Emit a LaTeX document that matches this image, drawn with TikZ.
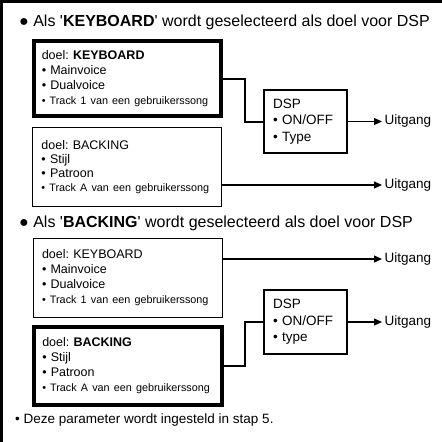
\documentclass[tikz,border=0pt]{standalone}
\usepackage{fontspec}
\setmainfont{Liberation Sans}
\usetikzlibrary{arrows.meta,calc}
\frenchspacing
\begin{document}
\begin{tikzpicture}[x=1pt,y=-1pt,
  srcbox/.style={draw, align=left, inner ysep=0pt, minimum height=#1,
    font=\frenchspacing\fontsize{12.5}{15}\selectfont},
  thinsrc/.style={srcbox=#1, line width=1pt, inner xsep=9pt, text width=171pt},
  thicksrc/.style={srcbox=#1, line width=4pt, inner xsep=8pt, text width=171.5pt},
  dspbox/.style={draw, line width=2pt, align=left, inner xsep=9pt, inner ysep=0pt,
    text width=65pt, minimum height=#1, font=\fontsize{13.5}{16.5}\selectfont},
  outlbl/.style={anchor=west, inner xsep=2.5pt, inner ysep=0pt, font=\fontsize{13.5}{16}\selectfont},
  titlelbl/.style={anchor=west, inner sep=0pt, font=\fontsize{16}{18}\selectfont},
  conn/.style={line width=2pt},
  arr/.style={line width=1.2pt, -{Triangle[length=8pt,width=7pt]}}]
\useasboundingbox (0,0) rectangle (442,442);
% frame
\draw[line width=2.5pt] (1.25,442) -- (1.25,1.25) -- (442,1.25);

% ---------- part 1 ----------
\node[titlelbl] (t1) at (19,22) {● Als \textquotesingle\textbf{KEYBOARD}\textquotesingle{} wordt geselecteerd als doel voor DSP};

\node[thicksrc=75pt] (b1) at (127.5,78.5) {\mbox{doel: \textbf{KEYBOARD}}\\\mbox{• Mainvoice}\\\mbox{• Dualvoice}\\\mbox{\fontsize{10.8}{15}\selectfont • Track 1 van een gebruikerssong}};
\node[thinsrc=79pt, font=\fontsize{12.5}{14}\selectfont] (b2) at (127,167) {\mbox{doel: BACKING}\\\mbox{• Stijl}\\\mbox{• Patroon}\\\mbox{\fontsize{10.8}{14}\selectfont • Track A van een gebruikerssong}};

\node[dspbox=63pt] (d1) at (305.5,121.5) {DSP\\• ON/OFF\\• Type};

\node[outlbl] (u1) at (382,121.5) {Uitgang};
\node[outlbl] (u2) at (382,185) {Uitgang};

\draw[conn] (b1.east) -- ++(22,0) |- (d1.west);
\draw[arr] (d1.east) -- (u1.west);
\draw[arr] (b2.east |- u2.west) -- (u2.west);

% ---------- part 2 ----------
\node[titlelbl] (t2) at (19,223) {● Als \textquotesingle\textbf{BACKING}\textquotesingle{} wordt geselecteerd als doel voor DSP};

\node[thinsrc=79pt] (b3) at (127.5,278) {\mbox{doel: KEYBOARD}\\\mbox{• Mainvoice}\\\mbox{• Dualvoice}\\\mbox{\fontsize{10.8}{15}\selectfont • Track 1 van een gebruikerssong}};
\node[thicksrc=78pt] (b4) at (128,366) {\mbox{doel: \textbf{BACKING}}\\\mbox{• Stijl}\\\mbox{• Patroon}\\\mbox{\fontsize{10.8}{15}\selectfont • Track A van een gebruikerssong}};

\node[dspbox=64pt] (d2) at (305.5,322) {DSP\\• ON/OFF\\• type};

\node[outlbl] (u3) at (382,259) {Uitgang};
\node[outlbl] (u4) at (382,322) {Uitgang};

\draw[arr] (b3.east |- u3.west) -- (u3.west);
\draw[conn] (b4.east) -- ++(21,0) |- (d2.west);
\draw[arr] (d2.east) -- (u4.west);

% footnote
\node[anchor=west, inner sep=0pt, font=\fontsize{13.5}{16}\selectfont] (fn) at (15,420) {• Deze parameter wordt ingesteld in stap 5.};
\end{tikzpicture}
\end{document}
